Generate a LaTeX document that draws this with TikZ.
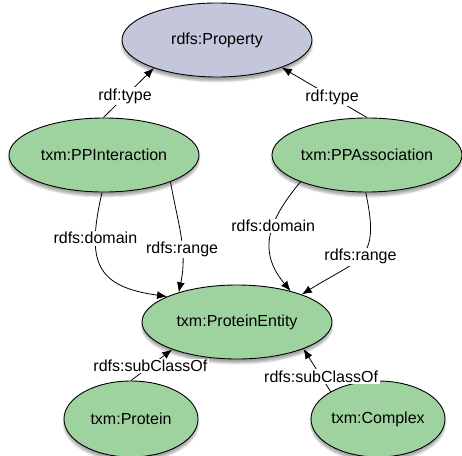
\documentclass[tikz,border=0pt]{standalone}
\usepackage{fontspec}
\setmainfont{Liberation Sans}
\usetikzlibrary{arrows.meta, shapes.geometric, shadows.blur}
\definecolor{classgreen}{RGB}{158,211,160}
\definecolor{proplilac}{RGB}{196,199,219}

\begin{document}
\begin{tikzpicture}[x=1pt,y=1pt,
  cls/.style={ellipse, draw=black, line width=0.9pt, fill=classgreen, inner sep=0pt,
    minimum width=190pt, minimum height=74pt, font=\fontsize{16}{19}\selectfont,
    blur shadow={shadow xshift=0pt, shadow yshift=-4pt, shadow blur steps=6, shadow opacity=35}},
  small/.style={minimum width=134pt, minimum height=76pt},
  lbl/.style={fill=white, inner sep=1.5pt, font=\fontsize{16}{19}\selectfont},
  rel/.style={line width=0.8pt, -{Latex[length=10pt,width=8pt]}}]
\useasboundingbox (0,0) rectangle (462,-455);

% classes
\node[cls, fill=proplilac] (prop) at (217,-40) {rdfs:Property};
\node[cls] (ppi) at (104,-155) {txm:PPInteraction};
\node[cls] (ppa) at (367,-155) {txm:PPAssociation};
\node[cls] (pe) at (237,-322) {txm:ProteinEntity};
\node[cls, small] (prot) at (131,-419) {txm:Protein};
\node[cls, small] (cplx) at (378,-419) {txm:Complex};

% rdf:type
\draw[rel] (ppi.91) -- node[lbl, pos=0.43]{rdf:type} (prop.204);
\draw[rel] (ppa.north) -- node[lbl, pos=0.41]{rdf:type} (prop.337);

% domain and range
\draw[rel] (ppi.267) to[out=-103, in=172, looseness=1.5] node[lbl, pos=0.26]{rdfs:domain} (pe.160);
\draw[rel] (ppi.338) to[out=-80, in=78] node[lbl, pos=0.62]{rdfs:range} (pe.153);
\draw[rel] (ppa.202) to[out=-130, in=130, looseness=1.2] node[lbl, pos=0.4]{rdfs:domain} (pe.30);
\draw[rel] (ppa.268) to[out=-78, in=32, looseness=1.5] node[lbl, pos=0.52]{rdfs:range} (pe.23);

% subclasses
\draw[rel] (prot.north) -- node[lbl, pos=0.47]{rdfs:subClassOf} (pe.203);
\draw[rel] (cplx.150) -- node[lbl, pos=0.35]{rdfs:subClassOf} (pe.338);
\end{tikzpicture}
\end{document}
